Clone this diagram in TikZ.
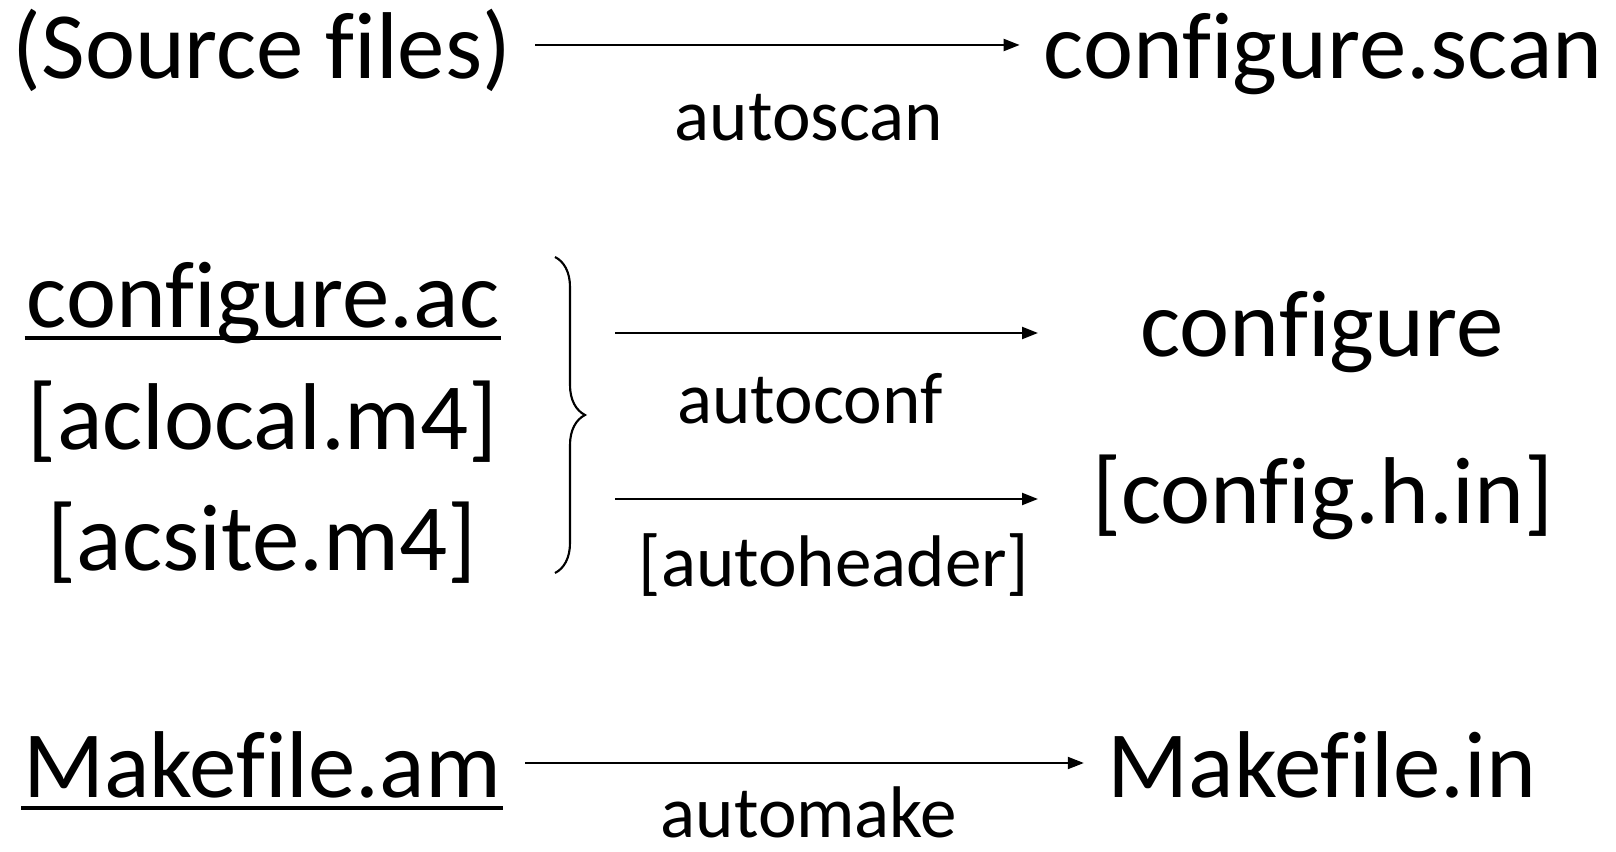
\documentclass[tikz,border=0pt]{standalone}
\usepackage{fontspec}
\setmainfont{Carlito}[Ligatures = NoCommon]
\usetikzlibrary{arrows.meta, decorations.pathreplacing}

\begin{document}
\begin{tikzpicture}[
		file/.style = {inner sep = 0, outer xsep = 0.24cm, anchor = base, text height = 0.71cm, text depth = 0.03cm, font = \fontsize{27}{32}\selectfont},
		tool/.style = {inner sep = 0, anchor = base, font = \fontsize{20.8}{25}\selectfont},
		arr/.style = {line width = 0.6pt, -{Triangle[length = 0.16cm, width = 0.12cm]}},
		uline/.style = {line width = 1.1pt}]
		\useasboundingbox (0, 0) rectangle (16.16, 8.51);
		\node[file] (src) at (2.62, 7.72) {(Source files)};
		\node[file] (scan) at (13.23, 7.72) {configure.scan};
		\node[tool] (autoscan) at (8.09, 7.10) {autoscan};
		\draw[arr] (src) to (scan);
		\node[file] (cac) at (2.63, 5.23) {configure.ac};
		\node[file] (aclocal) at (2.63, 4.02) {[aclocal.m4]};
		\node[file] (acsite) at (2.62, 2.81) {[acsite.m4]};
		\draw[uline] ([shift = {(0.22, -0.10)}]cac.base west) to ([shift = {(-0.22, -0.10)}]cac.base east);
		\draw[line width = 0.6pt, decorate, decoration = {brace, amplitude = 0.3cm}] (5.55, 5.94) to (5.55, 2.78);
		\node[file] (conf) at (13.22, 4.94) {configure};
		\node[file] (hin) at (13.23, 3.28) {[config.h.in]};
		\foreach \y/\n in {5.18/1, 3.52/2} {
			\coordinate (from\n) at (6.15, \y);
			\coordinate (to\n) at (10.38, \y);
			\draw[arr] (from\n) to (to\n);
		}
		\node[tool] (autoconf) at (8.10, 4.28) {autoconf};
		\node[tool] (autoheader) at (8.34, 2.64) {[autoheader]};
		\node[file] (mam) at (2.62, 0.54) {Makefile.am};
		\node[file] (min) at (13.22, 0.54) {Makefile.in};
		\node[tool] (automake) at (8.09, 0.14) {automake};
		\draw[uline] ([shift = {(0.22, -0.11)}]mam.base west) to ([shift = {(-0.22, -0.11)}]mam.base east);
		\draw[arr] (mam) to (min);
	\end{tikzpicture}
\end{document}
